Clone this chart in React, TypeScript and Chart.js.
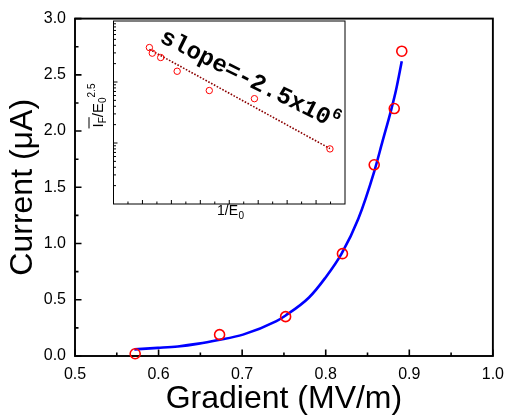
import React, { useEffect, useRef } from 'react';
import { Chart, registerables } from 'chart.js';

Chart.register(...registerables);

const FONT = "'Liberation Sans', Arial, sans-serif";
const MONO = "'Liberation Mono', 'Courier New', monospace";

// ---- Main chart data ----
const gradient = [0.572, 0.673, 0.752, 0.820, 0.858, 0.882, 0.891];
const current = [0.02, 0.19, 0.35, 0.91, 1.70, 2.20, 2.71];

const fitGradient = [0.571, 0.599, 0.623, 0.648, 0.670, 0.701, 0.741, 0.752, 0.780, 0.799, 0.819, 0.839, 0.858, 0.868, 0.878, 0.884, 0.891];
const fitCurrent = [0.059, 0.072, 0.085, 0.11, 0.14, 0.19, 0.31, 0.36, 0.52, 0.69, 0.91, 1.22, 1.64, 1.91, 2.18, 2.36, 2.62];

const xTickValues = [0.5, 0.6, 0.7, 0.8, 0.9, 1.0];
const xMinorValues = [0.55, 0.65, 0.75, 0.85, 0.95];
const yTickValues = [0, 0.5, 1.0, 1.5, 2.0, 2.5, 3.0];
const yMinorValues = [0.25, 0.75, 1.25, 1.75, 2.25, 2.75];

// ---- Inset data ----
const invGradient = [1.124, 1.134, 1.163, 1.220, 1.331, 1.487, 1.748];
const normCurrent = [3.67, 2.97, 2.52, 1.50, 0.725, 0.533, 0.080];
const lineInvGradient = [1.124, 1.748];
const lineNormCurrent = [3.43, 0.081];

const insetXMajor = [1.1, 1.2, 1.3, 1.4, 1.5, 1.6, 1.7];
const insetXMinor = [1.05, 1.15, 1.25, 1.35, 1.45, 1.55, 1.65, 1.75];
const insetDecades = [0.01, 0.1, 1, 10];
const slopeText = 'slope=-2.5x10';
const slopeExp = '6';
const slopeAnchor = { x: 1.156, y: 4.6 };

const mainFrame = {
  id: 'mainFrame',
  beforeDatasetsDraw(chart: any) {
    const { ctx, chartArea: a, scales } = chart;
    const x = scales.x, y = scales.y;
    ctx.save();
    ctx.strokeStyle = '#000';
    ctx.lineWidth = 1.6;
    ctx.beginPath();
    const tick = (px: number, py: number, dx: number, dy: number) => {
      ctx.moveTo(px, py);
      ctx.lineTo(px + dx, py + dy);
    };
    xTickValues.forEach(v => tick(x.getPixelForValue(v), a.bottom, 0, -6.5));
    xMinorValues.forEach(v => tick(x.getPixelForValue(v), a.bottom, 0, -3.5));
    yTickValues.forEach(v => tick(a.left, y.getPixelForValue(v), 6.5, 0));
    yMinorValues.forEach(v => tick(a.left, y.getPixelForValue(v), 3.5, 0));
    ctx.stroke();
    ctx.lineWidth = 1.9;
    ctx.strokeRect(a.left, a.top, a.right - a.left, a.bottom - a.top);
    ctx.restore();
  },
};

const insetDecor = {
  id: 'insetDecor',
  beforeDatasetsDraw(chart: any) {
    const { ctx, chartArea: a, scales } = chart;
    const x = scales.x, y = scales.y;
    ctx.save();
    ctx.strokeStyle = '#000';
    ctx.lineWidth = 1;
    ctx.beginPath();
    const tick = (px: number, py: number, dx: number, dy: number) => {
      ctx.moveTo(px, py);
      ctx.lineTo(px + dx, py + dy);
    };
    insetXMajor.forEach(v => tick(x.getPixelForValue(v), a.bottom, 0, -4));
    insetXMinor.forEach(v => tick(x.getPixelForValue(v), a.bottom, 0, -2.5));
    insetDecades.forEach((d, i) => {
      if (i > 0 && i < insetDecades.length - 1) tick(a.left, y.getPixelForValue(d), 4, 0);
      if (i < insetDecades.length - 1) {
        for (let k = 2; k <= 9; k++) tick(a.left, y.getPixelForValue(d * k), 2.5, 0);
      }
    });
    ctx.stroke();
    ctx.strokeRect(a.left, a.top, a.right - a.left, a.bottom - a.top);
    ctx.restore();
  },
  afterDraw(chart: any) {
    const { ctx, chartArea: a, scales } = chart;
    const x = scales.x, y = scales.y;
    ctx.save();
    ctx.fillStyle = '#000';
    ctx.textBaseline = 'alphabetic';
    ctx.textAlign = 'left';

    // x title: 1/E0
    const big = `14px ${FONT}`;
    const small = `10px ${FONT}`;
    ctx.font = big;
    const w1 = ctx.measureText('1/E').width;
    ctx.font = small;
    const w2 = ctx.measureText('0').width;
    const cx = (a.left + a.right) / 2 - (w1 + w2) / 2 + 1;
    const by = a.bottom + 11;
    ctx.font = big;
    ctx.fillText('1/E', cx, by);
    ctx.font = small;
    ctx.fillText('0', cx + w1 + 0.5, by + 4);

    // y title: I_F / E_0 ^2.5 (rotated)
    const yb = `15px ${FONT}`;
    const ys = `10px ${FONT}`;
    ctx.font = yb;
    const wI = ctx.measureText('I').width;
    const wSl = ctx.measureText('/E').width;
    ctx.font = ys;
    const wF = ctx.measureText('F').width;
    const w0 = ctx.measureText('0').width;
    const w25 = ctx.measureText('2.5').width;
    const total = wI + wF + wSl + w0 + w25;
    const centerY = (a.top + a.bottom) / 2 - 7;
    ctx.translate(a.left - 10.5, centerY + total / 2);
    ctx.rotate(-Math.PI / 2);
    let p = 0;
    ctx.font = yb;
    ctx.fillText('I', p, 0);
    ctx.fillRect(p - 1, -14.5, wI + wF + 1, 1);
    p += wI;
    ctx.font = ys;
    ctx.fillText('F', p, 3);
    p += wF;
    ctx.font = yb;
    ctx.fillText('/E', p, 0);
    p += wSl;
    ctx.font = ys;
    ctx.fillText('0', p, 3);
    p += w0;
    ctx.fillText('2.5', p, -8);
    ctx.restore();

    // slope annotation
    ctx.save();
    ctx.fillStyle = '#000';
    ctx.textBaseline = 'alphabetic';
    ctx.translate(x.getPixelForValue(slopeAnchor.x), y.getPixelForValue(slopeAnchor.y));
    ctx.rotate((26.5 * Math.PI) / 180);
    ctx.font = `bold 24px ${MONO}`;
    ctx.fillText(slopeText, 0, 0);
    const ws = ctx.measureText(slopeText).width;
    ctx.font = `bold 16px ${MONO}`;
    ctx.fillText(slopeExp, ws, -10);
    ctx.restore();
  },
};

export default function App() {
  const mainRef = useRef<HTMLCanvasElement>(null);
  const insetRef = useRef<HTMLCanvasElement>(null);

  useEffect(() => {
    document.body.style.margin = '0';
    const main = new Chart(mainRef.current as HTMLCanvasElement, {
      type: 'scatter',
      data: {
        datasets: [
          {
            type: 'line',
            data: fitGradient.map((v, i) => ({ x: v, y: fitCurrent[i] })),
            borderColor: '#0000ff',
            borderWidth: 2.6,
            pointRadius: 0,
            fill: false,
            cubicInterpolationMode: 'monotone',
            clip: false,
            order: 2,
          } as any,
          {
            data: gradient.map((v, i) => ({ x: v, y: current[i] })),
            borderColor: '#ff0000',
            backgroundColor: 'rgba(0,0,0,0)',
            pointRadius: 5,
            pointBorderWidth: 1.6,
            showLine: false,
            clip: false,
            order: 1,
          } as any,
        ],
      },
      options: {
        animation: false,
        responsive: false,
        events: [],
        plugins: { legend: { display: false }, tooltip: { enabled: false } },
        layout: { padding: { top: 15, right: 13, left: 0, bottom: 0 } },
        scales: {
          x: {
            type: 'linear',
            min: 0.5,
            max: 1.0,
            afterBuildTicks: (s: any) => {
              s.ticks = xTickValues.map(v => ({ value: v }));
            },
            afterFit: (s: any) => {
              s.height = 64;
            },
            grid: { display: false, drawTicks: false },
            border: { display: false },
            ticks: {
              color: '#000',
              font: { family: FONT, size: 16 },
              padding: 9,
              maxRotation: 0,
              autoSkip: false,
              callback: (v: any) => Number(v).toFixed(1),
            },
            title: {
              display: true,
              text: 'Gradient (MV/m)',
              color: '#000',
              font: { family: FONT, size: 32 },
              padding: { top: 0, bottom: 2 },
            },
          },
          y: {
            type: 'linear',
            min: 0,
            max: 3,
            afterBuildTicks: (s: any) => {
              s.ticks = yTickValues.map(v => ({ value: v }));
            },
            afterFit: (s: any) => {
              s.width = 75;
            },
            grid: { display: false, drawTicks: false },
            border: { display: false },
            ticks: {
              color: '#000',
              font: { family: FONT, size: 16 },
              padding: 9,
              autoSkip: false,
              callback: (v: any) => Number(v).toFixed(1),
            },
            title: {
              display: true,
              text: 'Current (\u03BCA)',
              color: '#000',
              font: { family: FONT, size: 32 },
              padding: { top: 4, bottom: 0 },
            },
          },
        },
      } as any,
      plugins: [mainFrame],
    });

    const inset = new Chart(insetRef.current as HTMLCanvasElement, {
      type: 'scatter',
      data: {
        datasets: [
          {
            type: 'line',
            data: lineInvGradient.map((v, i) => ({ x: v, y: lineNormCurrent[i] })),
            borderColor: '#8b0000',
            borderWidth: 1.6,
            borderDash: [1.6, 1.6],
            pointRadius: 0,
            fill: false,
            order: 2,
          } as any,
          {
            data: invGradient.map((v, i) => ({ x: v, y: normCurrent[i] })),
            borderColor: '#ff0000',
            backgroundColor: 'rgba(0,0,0,0)',
            pointRadius: 3.2,
            pointBorderWidth: 1,
            showLine: false,
            clip: false,
            order: 1,
          } as any,
        ],
      },
      options: {
        animation: false,
        responsive: false,
        events: [],
        plugins: { legend: { display: false }, tooltip: { enabled: false } },
        layout: { padding: { top: 2, right: 7, left: 0, bottom: 0 } },
        scales: {
          x: {
            type: 'linear',
            min: 1.0,
            max: 1.8,
            afterFit: (s: any) => {
              s.height = 24;
            },
            grid: { display: false, drawTicks: false },
            border: { display: false },
            ticks: { display: false },
          },
          y: {
            type: 'logarithmic',
            min: 0.01,
            max: 10,
            afterFit: (s: any) => {
              s.width = 33.5;
            },
            grid: { display: false, drawTicks: false },
            border: { display: false },
            ticks: { display: false },
          },
        },
      } as any,
      plugins: [insetDecor],
    });

    return () => {
      main.destroy();
      inset.destroy();
    };
  }, []);

  return (
    <div style={{ position: 'absolute', left: 0, top: 0, width: 513, height: 420, background: '#fff' }}>
      <canvas ref={mainRef} width={513} height={420} style={{ position: 'absolute', left: 0, top: 0 }} />
      <canvas ref={insetRef} width={272} height={212} style={{ position: 'absolute', left: 80, top: 16 }} />
    </div>
  );
}
